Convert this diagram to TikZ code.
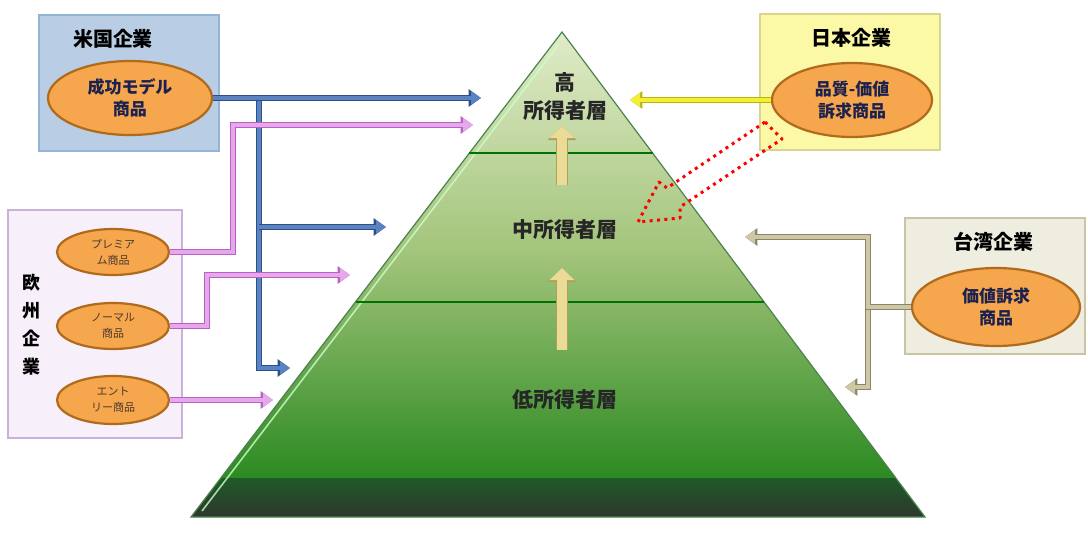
\documentclass[tikz,border=0pt]{standalone}
\usepackage{fontspec}
\newfontfamily\jp{Noto Sans CJK JP}
\usetikzlibrary{arrows.meta,shapes.geometric}
\definecolor{usfill}{HTML}{B9CDE5}
\definecolor{usdraw}{HTML}{95B3D7}
\definecolor{jpfill}{HTML}{FBF8A6}
\definecolor{jpdraw}{HTML}{D9D58E}
\definecolor{twfill}{HTML}{EEEDE0}
\definecolor{twdraw}{HTML}{C9C4A4}
\definecolor{eufill}{HTML}{F7EFF9}
\definecolor{eudraw}{HTML}{CDB0D8}
\definecolor{ellfill}{HTML}{F6A64C}
\definecolor{elldraw}{HTML}{B06A1C}
\definecolor{blueL}{HTML}{5A83C4}
\definecolor{blueD}{HTML}{2E4F86}
\definecolor{pinkL}{HTML}{E8A6EC}
\definecolor{pinkD}{HTML}{B565C0}
\definecolor{yelL}{HTML}{F2F030}
\definecolor{yelD}{HTML}{B8B410}
\definecolor{tanL}{HTML}{CEC7A6}
\definecolor{tanD}{HTML}{8A8468}
\definecolor{pyrTop}{HTML}{E0EBC8}
\definecolor{pyrMid}{HTML}{A2C47A}
\definecolor{pyrBot}{HTML}{2C8A22}
\definecolor{bandTop}{HTML}{1F5A28}
\definecolor{bandBot}{HTML}{2E372E}
\definecolor{goldL}{HTML}{EADC96}
\definecolor{goldD}{HTML}{B0A05A}
\definecolor{txtnavy}{HTML}{1C2250}
\definecolor{txtbrown}{HTML}{4A3A30}
\tikzset{
  corpbox/.style={draw=#1, line width=1.2pt, inner sep=0pt},
  prod/.style={ellipse, draw=elldraw, line width=1.1pt, fill=ellfill, inner sep=0pt, align=center, font=\jp\bfseries\fontsize{8.5}{11}\selectfont, text=txtnavy},
  euprod/.style={ellipse, draw=elldraw, line width=1.1pt, fill=ellfill, inner sep=0pt, align=center, font=\jp\fontsize{5.5}{8}\selectfont, text=txtbrown},
  ttl/.style={font=\jp\bfseries\fontsize{10}{12}\selectfont, text=black},
  lvl/.style={font=\jp\bfseries\fontsize{10.5}{14}\selectfont, text=black!85, align=center},
  conn/.style 2 args={line width=2.1pt, draw=#1, line join=miter, -{Triangle[length=5pt,width=6.5pt]},
     preaction={draw=#2, line width=3.3pt, line join=miter, -{Triangle[length=6.2pt,width=8.5pt]}}},
  uparr/.style={line width=5pt, draw=goldL, -{Triangle[length=6pt,width=12pt]},
     preaction={draw=goldD, line width=6pt, -{Triangle[length=7pt,width=14pt]}}},
  divider/.style={draw=green!45!black, line width=0.9pt},
  redpath/.style={draw=red, line width=1.5pt, dash pattern=on 1.5pt off 2.2pt, line join=round}
}
\begin{document}
\begin{tikzpicture}[x=0.5pt,y=-0.5pt]
\useasboundingbox (0,0) rectangle (1088,542);
\fill[white] (0,0) rectangle (1088,542);

% ---------- pyramid ----------
\coordinate (apex) at (562,32);
\coordinate (bl) at (191,517);
\coordinate (br) at (925,517);
\coordinate (bandl) at (220.8,478);
\coordinate (bandr) at (895.8,478);
\shade[top color=pyrTop, bottom color=pyrBot, middle color=pyrMid] (apex) -- (bandr) -- (bandl) -- cycle;
\shade[top color=bandTop, bottom color=bandBot] (bandl) -- (bandr) -- (br) -- (bl) -- cycle;
\draw[draw=green!30!black!70, line width=0.6pt] (apex) -- (br) -- (bl) -- cycle;
\draw[draw=green!20!white, line width=0.8pt, opacity=0.8] (559,44) -- (202,511);
\coordinate (d1l) at (469.4,153); \coordinate (d1r) at (652.6,153);
\coordinate (d2l) at (355.5,302); \coordinate (d2r) at (764.1,302);
\draw[divider] (d1l) -- (d1r);
\draw[divider] (d2l) -- (d2r);

\node[lvl] (hi) at (565,97) {高\\所得者層};
\node[lvl] (mid) at (565,230) {中所得者層};
\node[lvl] (low) at (565,400) {低所得者層};

\coordinate (u1s) at (562,185); \coordinate (u1e) at (562,126);
\coordinate (u2s) at (562,350); \coordinate (u2e) at (562,268);
\draw[uparr] (u1s) -- (u1e);
\draw[uparr] (u2s) -- (u2e);

% ---------- US ----------
\node[corpbox=usdraw, fill=usfill, minimum width=90pt, minimum height=68pt] (usbox) at (129,83) {};
\node[ttl] (ustitle) at (113,39) {米国企業};
\node[prod, minimum width=82pt, minimum height=37pt] (us) at (130,98) {成功モデル\\商品};

% ---------- Japan ----------
\node[corpbox=jpdraw, fill=jpfill, minimum width=90pt, minimum height=68pt] (jpbox) at (850,82) {};
\node[ttl] (jptitle) at (851,38) {日本企業};
\node[prod, minimum width=80pt, minimum height=37pt] (jpe) at (852,100) {品質-価値\\訴求商品};

% ---------- Taiwan ----------
\node[corpbox=twdraw, fill=twfill, minimum width=90pt, minimum height=68pt] (twbox) at (995,286) {};
\node[ttl] (twtitle) at (993,242) {台湾企業};
\node[prod, minimum width=84pt, minimum height=39pt] (twe) at (996,307) {価値訴求\\商品};

% ---------- Europe ----------
\node[corpbox=eudraw, fill=eufill, minimum width=87pt, minimum height=114pt] (eubox) at (95,324) {};
\node[ttl, align=center, font=\jp\bfseries\fontsize{9}{14}\selectfont] (eutitle) at (31,325) {欧\\州\\企\\業};
\node[euprod, minimum width=56pt, minimum height=23pt] (prem) at (113,252) {プレミア\\ム商品};
\node[euprod, minimum width=56pt, minimum height=23pt] (norm) at (113,326) {ノーマル\\商品};
\node[euprod, minimum width=56pt, minimum height=24pt] (entry) at (113,400) {エント\\リー商品};

% ---------- connectors ----------
% blue (US)
\coordinate (bT) at (481,98);
\coordinate (bJ1) at (259,98);
\coordinate (bB) at (290,368);
\coordinate (bJ2) at (259,227);
\coordinate (bM) at (386,227);
\draw[conn={blueL}{blueD}] (bJ1) |- (bB);
\draw[conn={blueL}{blueD}] (bJ2) -- (bM);
\draw[conn={blueL}{blueD}] (us.east) -- (bT);
% pink (Europe)
\coordinate (p1d) at (233,125);
\coordinate (p1t) at (473,125);
\coordinate (p2d) at (207,275);
\coordinate (p2t) at (350,275);
\coordinate (p3t) at (273,400);
\draw[conn={pinkL}{pinkD}] (prem.east) -| (p1d) -- (p1t);
\draw[conn={pinkL}{pinkD}] (norm.east) -| (p2d) -- (p2t);
\draw[conn={pinkL}{pinkD}] (entry.east) -- (p3t);
% yellow (Japan)
\coordinate (yT) at (630,100);
\draw[conn={yelL}{yelD}] (jpe.west) -- (yT);
% tan (Taiwan)
\coordinate (tK) at (868,237);
\coordinate (tA) at (745,237);
\coordinate (tJ) at (868,307);
\coordinate (tB) at (845,387);
\draw[conn={tanL}{tanD}] (tJ) |- (tB);
\draw[conn={tanL}{tanD}] (twe.west) -| (tK) -- (tA);

% ---------- red dotted arrow ----------
\draw[redpath] (765,122) -- (667,188) -- (659,182) -- (638,222) -- (680,218) -- (680,207) -- (782,139) -- cycle;
\end{tikzpicture}
\end{document}
